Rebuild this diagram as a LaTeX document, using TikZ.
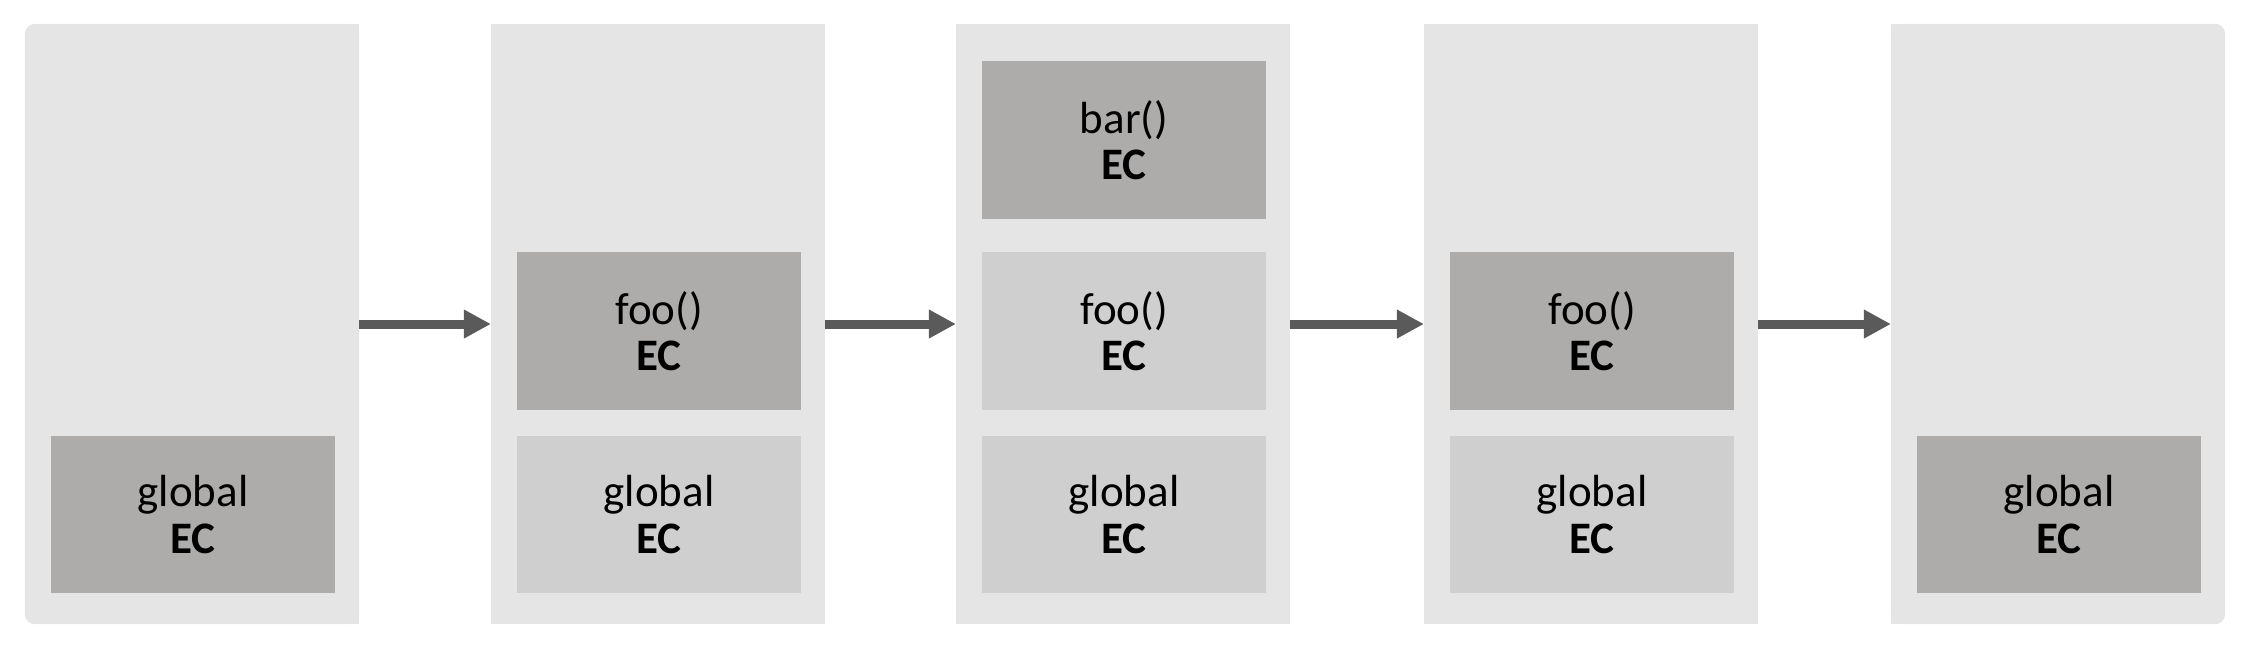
\documentclass[tikz,border=0pt]{standalone}
\usepackage{fontspec}
\setmainfont{Carlito}
\usetikzlibrary{arrows.meta}
\definecolor{colbg}{HTML}{E5E5E5}
\definecolor{ecdarkc}{HTML}{ADACAB}
\definecolor{eclightc}{HTML}{D0CFCF}
\definecolor{arrowgray}{HTML}{5A5A5A}
\begin{document}
\begin{tikzpicture}[x=0.01cm,y=-0.01cm,
  column/.style={fill=colbg, minimum width=3.34cm, minimum height=6cm, inner sep=0pt, outer sep=0pt},
  ecdark/.style={fill=ecdarkc, minimum width=2.84cm, minimum height=1.575cm, inner sep=0pt, outer sep=0pt, align=center, font=\fontsize{12.8}{13.1}\selectfont},
  eclight/.style={ecdark, fill=eclightc},
  flow/.style={draw=arrowgray, line width=2.56pt, -{Triangle[length=0.27cm,width=0.27cm]}}]
\useasboundingbox (0,0) rectangle (2258,644);
% columns
\node[column, rounded corners=0.1cm] (col1) at (192,324) {};
\fill[colbg] (col1.north) rectangle (col1.south east);
\node[column] (col2) at (658,324) {};
\node[column] (col3) at (1123,324) {};
\node[column] (col4) at (1591,324) {};
\node[column, rounded corners=0.1cm] (col5) at (2058,324) {};
\fill[colbg] (col5.north west) rectangle (col5.south);
% stacks
\node[ecdark] (g1) at (193,514.5) {global\\\textbf{EC}};
\node[ecdark] (f2) at (659,331) {foo()\\\textbf{EC}};
\node[eclight] (g2) at (659,514.5) {global\\\textbf{EC}};
\node[ecdark] (b3) at (1124,140) {bar()\\\textbf{EC}};
\node[eclight] (f3) at (1124,331) {foo()\\\textbf{EC}};
\node[eclight] (g3) at (1124,514.5) {global\\\textbf{EC}};
\node[ecdark] (f4) at (1592,331) {foo()\\\textbf{EC}};
\node[eclight] (g4) at (1592,514.5) {global\\\textbf{EC}};
\node[ecdark] (g5) at (2059,514.5) {global\\\textbf{EC}};
% arrows
\draw[flow] (col1.east) -- (col2.west);
\draw[flow] (col2.east) -- (col3.west);
\draw[flow] (col3.east) -- (col4.west);
\draw[flow] (col4.east) -- (col5.west);
\end{tikzpicture}
\end{document}
